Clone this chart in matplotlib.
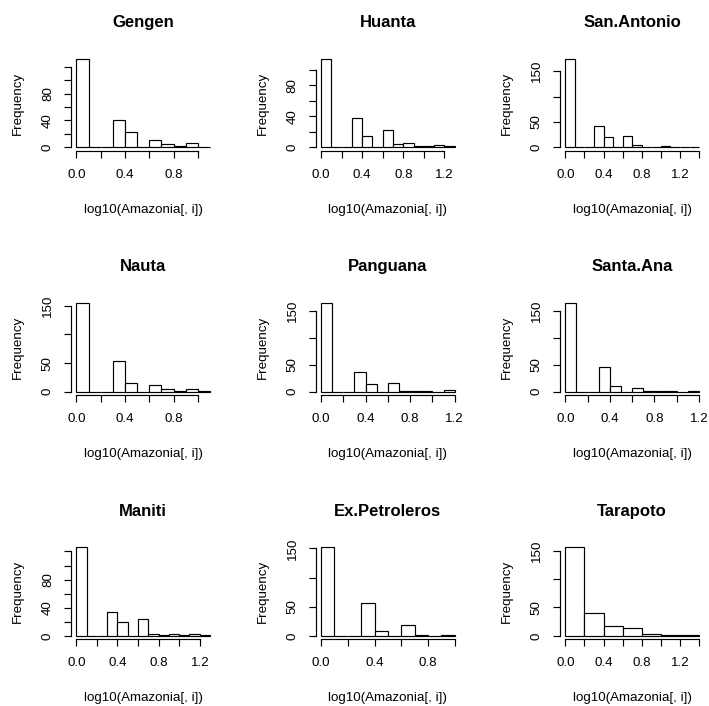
import numpy as np
import matplotlib
matplotlib.use("Agg")
import matplotlib.pyplot as plt

plt.rcParams['font.family'] = ['Liberation Sans', 'DejaVu Sans']

# histogram counts of log10(Amazonia[, i]) per site
sites = ["Gengen", "Huanta", "San.Antonio",
         "Nauta", "Panguana", "Santa.Ana",
         "Maniti", "Ex.Petroleros", "Tarapoto"]
bin_width = [0.1, 0.1, 0.1, 0.1, 0.1, 0.1, 0.1, 0.1, 0.2]
gengen = [132, 0, 0, 40, 23, 0, 11, 5, 2, 6, 1]
huanta = [114, 0, 0, 38, 14, 0, 22, 4, 5, 2, 1, 3, 1]
san_antonio = [175, 0, 0, 42, 21, 0, 22, 5, 1, 1, 2, 1, 1, 1]
nauta = [155, 0, 0, 54, 16, 0, 11, 4, 1, 5, 1]
panguana = [165, 0, 0, 36, 14, 0, 17, 1, 1, 1, 0, 3]
santa_ana = [165, 0, 0, 45, 11, 0, 7, 1, 1, 2, 0, 1]
maniti = [126, 0, 0, 34, 20, 0, 24, 3, 1, 3, 1, 2, 1]
ex_petroleros = [152, 0, 0, 56, 9, 0, 19, 2, 0, 2]
tarapoto = [156, 41, 17, 13, 3, 2, 1]
counts = [gengen, huanta, san_antonio, nauta, panguana, santa_ana,
          maniti, ex_petroleros, tarapoto]

W, H = 709, 706
fig = plt.figure(figsize=(W / 100, H / 100), dpi=100)

col_left = [71.0, 315.7, 560.0]
row_top = [55.1, 299.5, 543.7]
pw, ph = 144.4, 95.7
lw = 0.85
fs = 9.6

for k, name in enumerate(sites):
    r, c = divmod(k, 3)
    ax = fig.add_axes([col_left[c] / W, 1 - (row_top[r] + ph) / H, pw / W, ph / H])
    cnt = np.array(counts[k])
    bw = bin_width[k]
    edges = np.arange(len(cnt) + 1) * bw
    ax.bar(edges[:-1], cnt, width=bw, align='edge',
           facecolor='white', edgecolor='black', linewidth=lw)

    xmax = edges[-1]
    ymax = cnt.max()
    ax.set_xlim(-0.04 * xmax, 1.04 * xmax)
    ax.set_ylim(-0.04 * ymax, 1.04 * ymax)

    xt = np.arange(0, 1.04 * xmax + 1e-9, 0.2)
    ax.set_xticks(xt)
    ax.set_xticklabels(["%.1f" % v if i % 2 == 0 else "" for i, v in enumerate(xt)])
    if ymax < 140:
        yt = np.arange(0, 1.04 * ymax, 20)
        shown = {0, 40, 80}
    else:
        yt = np.arange(0, 1.04 * ymax, 50)
        shown = {0, 50, 150}
    ax.set_yticks(yt)
    ax.set_yticklabels(["%d" % v if int(v) in shown else "" for v in yt],
                       rotation=90, va='center')

    for s in ['top', 'right']:
        ax.spines[s].set_visible(False)
    ax.spines['left'].set_bounds(0, yt[-1])
    ax.spines['bottom'].set_bounds(0, xt[-1])
    for s in ['left', 'bottom']:
        ax.spines[s].set_linewidth(lw)
    ax.tick_params(length=4.8, width=lw, labelsize=fs)
    ax.tick_params(axis='x', pad=8.2)
    ax.tick_params(axis='y', pad=7.5)

    ax.annotate(name, xy=(0.5, 1), xycoords='axes fraction',
                xytext=(0, 32.5), textcoords='offset pixels',
                ha='center', va='center', fontsize=12, fontweight='bold')
    ax.annotate("log10(Amazonia[, i])", xy=(0.5, 0), xycoords='axes fraction',
                xytext=(0, -59), textcoords='offset pixels',
                ha='center', va='center', fontsize=fs)
    ax.annotate("Frequency", xy=(0, 0.5), xycoords='axes fraction',
                xytext=(-53, 0), textcoords='offset pixels',
                ha='center', va='center', rotation=90, fontsize=fs)

fig.savefig("out.png", dpi=100)
